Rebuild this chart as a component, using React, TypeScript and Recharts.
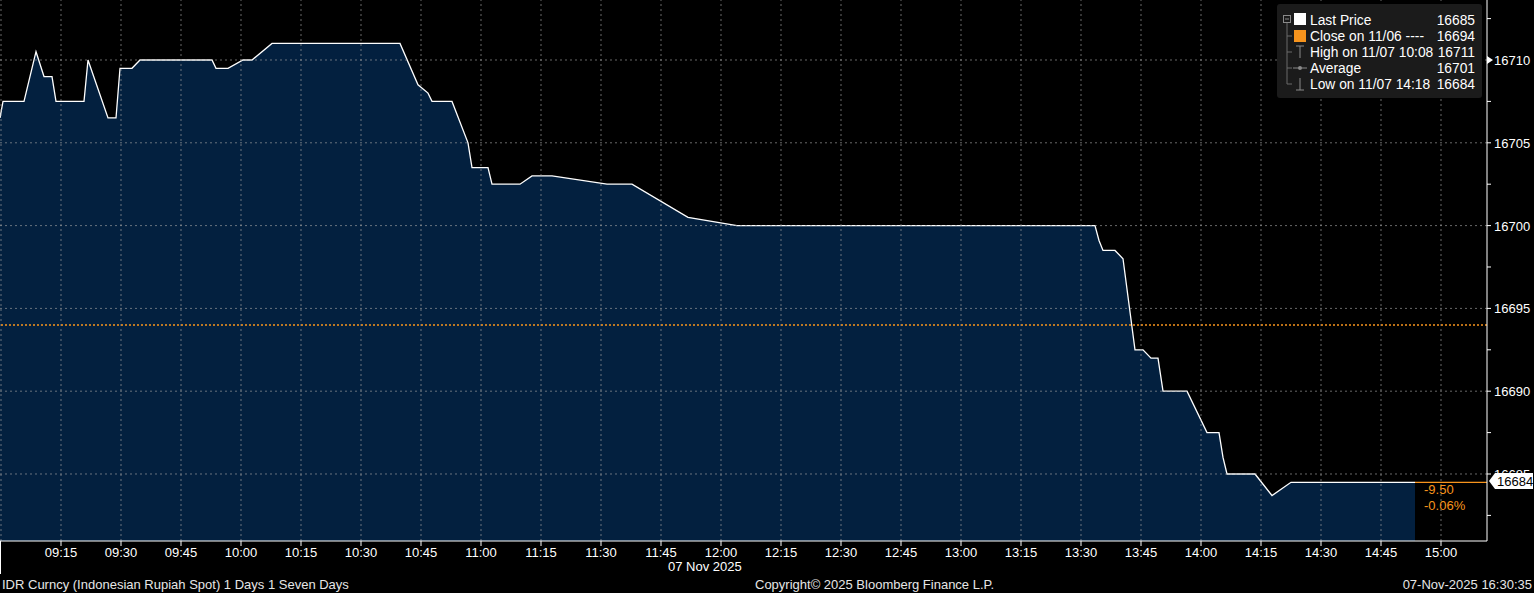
import React from 'react';
import { ComposedChart, Area, XAxis, YAxis, ReferenceLine } from 'recharts';

// minutes since midnight
const times = [
    539.75, 540.5, 545.75, 548.75, 550.75, 552.75, 553.75, 560.75, 561.75, 566.75,
    568.75, 569.75, 572.75, 574.75, 592.75, 593.75, 596.75, 600.5, 602.75, 607.75,
    639.75, 644.25, 646.75, 647.75, 652.75, 656.75, 657.75, 661.75, 662.75, 669.75,
    672.75, 677.75, 691.5, 697.75, 711.75, 724, 813.5, 814.5, 815.5, 818.5,
    820.5, 823.5, 825.5, 827.5, 829.25, 830.5, 836.5, 841.5, 844.5, 845.5,
    846.5, 853.5, 857.75, 862.5, 893.5,
];
const prices = [
    16706.5, 16707.5, 16707.5, 16710.5, 16709, 16709, 16707.5, 16707.5, 16710, 16706.5,
    16706.5, 16709.5, 16709.5, 16710, 16710, 16709.5, 16709.5, 16710, 16710, 16711,
    16711, 16708.5, 16708, 16707.5, 16707.5, 16705, 16703.5, 16703.5, 16702.5, 16702.5,
    16703, 16703, 16702.5, 16702.5, 16700.5, 16700, 16700, 16699.1, 16698.5, 16698.5,
    16698, 16692.5, 16692.5, 16692, 16692, 16690, 16690, 16687.5, 16687.5, 16686,
    16685, 16685, 16683.7, 16684.5, 16684.5,
];

const xTicks = [555, 570, 585, 600, 615, 630, 645, 660, 675, 690, 705, 720, 735, 750, 765, 780, 795, 810, 825, 840, 855, 870, 885, 900];
const xGrid = [540, ...xTicks];
const yTicks = [16682.5, 16685, 16687.5, 16690, 16692.5, 16695, 16697.5, 16700, 16702.5, 16705, 16707.5, 16710, 16712.5];
const yGrid = [16685, 16690, 16695, 16700, 16705, 16710];

const prevClose = 16694;
const lastPrice = 16684.5;

const legendRows = [
    { label: 'Last Price', value: '16685' },
    { label: 'Close on 11/06 ----', value: '16694' },
    { label: 'High on 11/07 10:08', value: '16711' },
    { label: 'Average', value: '16701' },
    { label: 'Low on 11/07 14:18', value: '16684' },
];

const data = times.map((t, i) => ({ t, price: prices[i] }));

const FONT = '"Liberation Sans", Arial, sans-serif';
const ORANGE = '#f7941d';
const GRID = '#a0a0a0';

const pad = (n: number) => String(n).padStart(2, '0');
const fmtTime = (m: number) => `${pad(Math.floor(m / 60))}:${pad(Math.round(m % 60))}`;

const PriceTick = (props: any) => {
    const { x, y, payload } = props;
    const major = payload.value % 5 === 0;
    if (!major) {
        return <line x1={x} x2={x + 4} y1={y} y2={y} stroke="#fff" />;
    }
    return (
        <g>
            {payload.value === 16710 ? (
                <polygon points={`${x},${y - 4} ${x + 6},${y} ${x},${y + 4}`} fill="#fff" />
            ) : (
                <line x1={x} x2={x + 4} y1={y} y2={y} stroke="#fff" />
            )}
            <text x={x + 7} y={y + 5} fill="#fff" fontSize={13} fontFamily={FONT}>
                {payload.value}
            </text>
        </g>
    );
};

export default function App() {
    return (
        <div style={{ position: 'fixed', left: 0, top: 0, width: 1534, height: 593, background: '#000' }}>
            <ComposedChart width={1534} height={593} data={data} margin={{ top: 0, right: 0, left: 0, bottom: 0 }}>
                <XAxis
                    dataKey="t"
                    type="number"
                    domain={[539.75, 911.5]}
                    allowDataOverflow
                    ticks={xTicks}
                    tickFormatter={fmtTime}
                    height={52}
                    stroke="#fff"
                    tickSize={5}
                    tick={{ fill: '#fff', fontSize: 13, fontFamily: FONT }}
                />
                <YAxis
                    orientation="right"
                    type="number"
                    domain={[16680.954, 16713.623]}
                    allowDataOverflow
                    ticks={yTicks}
                    width={47}
                    stroke="#fff"
                    tickSize={0}
                    tickMargin={0}
                    tick={<PriceTick />}
                    interval={0}
                />
                <Area
                    type="linear"
                    dataKey="price"
                    stroke="#ffffff"
                    strokeWidth={1.3}
                    fill="#03203f"
                    fillOpacity={1}
                    isAnimationActive={false}
                    dot={false}
                    activeDot={false}
                />
                {xGrid.map((v) => (
                    <ReferenceLine key={`vx-${v}`} x={v} stroke={GRID} strokeOpacity={0.65} strokeDasharray="2 3" />
                ))}
                {yGrid.map((v) => (
                    <ReferenceLine key={`hy-${v}`} y={v} stroke={GRID} strokeOpacity={0.65} strokeDasharray="2 3" />
                ))}
                <ReferenceLine y={prevClose} stroke={ORANGE} strokeWidth={1.5} strokeDasharray="2 2" />
                <ReferenceLine
                    segment={[{ x: times[times.length - 1], y: lastPrice }, { x: 911.5, y: lastPrice }]}
                    stroke={ORANGE}
                    strokeWidth={1.3}
                />
            </ComposedChart>

            <svg
                width={1534}
                height={593}
                style={{ position: 'absolute', left: 0, top: 0, pointerEvents: 'none' }}
                fontFamily={FONT}
                fontSize={13}
            >
                {/* legend */}
                <rect x={1277} y={4} width={205} height={94} rx={3} fill="#1b1b1b" />
                <rect x={1283.5} y={15.5} width={7} height={7} fill="none" stroke="#8a8a8a" />
                <line x1={1285} x2={1289} y1={19} y2={19} stroke="#8a8a8a" />
                <line x1={1287} x2={1287} y1={23} y2={84} stroke="#6a6a6a" />
                {[36, 52, 68, 84].map((y) => (
                    <line key={y} x1={1287} x2={1292} y1={y} y2={y} stroke="#6a6a6a" />
                ))}
                <rect x={1294} y={13} width={12} height={12} fill="#fff" />
                <rect x={1294} y={30} width={12} height={12} fill={ORANGE} />
                <line x1={1296} x2={1304} y1={46} y2={46} stroke="#8a8a8a" />
                <line x1={1300} x2={1300} y1={46} y2={58} stroke="#8a8a8a" />
                <line x1={1293} x2={1307} y1={68} y2={68} stroke="#8a8a8a" />
                <circle cx={1300} cy={68} r={2} fill="#8a8a8a" />
                <line x1={1300} x2={1300} y1={78} y2={90} stroke="#8a8a8a" />
                <line x1={1296} x2={1304} y1={90} y2={90} stroke="#8a8a8a" />
                {legendRows.map((r, i) => (
                    <g key={r.label} fontSize={13.8}>
                        <text x={1310} y={25 + i * 16} fill="#fff">{r.label}</text>
                        <text x={1475} y={25 + i * 16} fill="#fff" textAnchor="end">{r.value}</text>
                    </g>
                ))}

                {/* last price tag + change */}
                <polygon points="1489,481 1495,473 1533,473 1533,489 1495,489" fill="#fff" />
                <text x={1497} y={486} fill="#000">16684</text>
                <text x={1424} y={494} fill={ORANGE}>-9.50</text>
                <text x={1424} y={510} fill={ORANGE}>-0.06%</text>

                {/* left edge mark, date and footer */}
                <line x1={0.5} x2={0.5} y1={541} y2={574} stroke="#fff" />
                <text x={668} y={571} fill="#fff">07 Nov 2025</text>
                <text x={2} y={589} fill="#e6e6e6">IDR Curncy (Indonesian Rupiah Spot) 1 Days 1 Seven Days</text>
                <text x={755} y={589} fill="#e6e6e6">Copyright© 2025 Bloomberg Finance L.P.</text>
                <text x={1532} y={589} fill="#e6e6e6" textAnchor="end">07-Nov-2025 16:30:35</text>
            </svg>
        </div>
    );
}
